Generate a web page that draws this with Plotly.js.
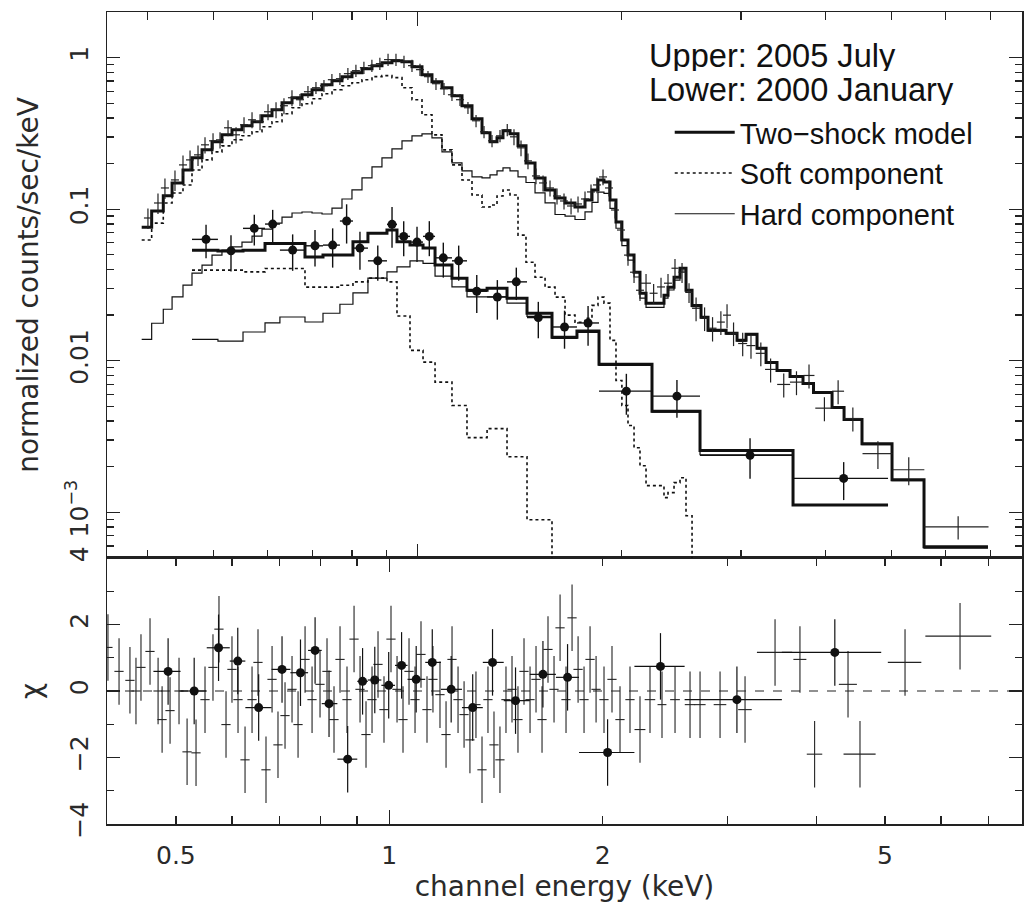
<!DOCTYPE html>
<html><head><meta charset="utf-8">
<script src="https://cdn.plot.ly/plotly-3.0.1.min.js"></script>
<style>html,body{margin:0;padding:0;background:#fff}</style>
</head><body><div id="chart" style="width:1024px;height:903px"></div>
<script>
// ---------- 2005 July (upper) : model bins ----------
const upperModelEdges = [0.3918,0.4053,0.4216,0.4344,0.4508,0.4648,0.4809,0.4975,0.5146,0.5324,0.5508,0.5699,0.5895,0.6099,0.6310,0.6528,0.6753,0.6987,0.7228,0.7477,0.7735,0.8002,0.8279,0.8565,0.8860,0.9166,0.9484,0.9811,1.0150,1.0500,1.0863,1.1238,1.1627,1.2029,1.2445,1.2788,1.3095,1.3364,1.3686,1.4063,1.4450,1.4900,1.5416,1.5947,1.6499,1.7066,1.7656,1.8080,1.8452,1.8831,1.9220,1.9615,2.0012,2.0432,2.0855,2.1281,2.1722,2.3089,2.3405,2.3889,2.4378,2.4881,2.5396,2.6182,2.6810,2.8509,2.9590,3.0510,3.1668,3.2653,3.3890,3.5425,3.7019,3.8364,4.0857,4.2556,4.5229,5.0085,5.5834,6.9377];
const upperModel = [0.0759,0.0973,0.1229,0.1490,0.1816,0.2181,0.2463,0.2782,0.3095,0.3341,0.3549,0.3773,0.4135,0.4529,0.5039,0.5437,0.5690,0.6143,0.6629,0.7044,0.7488,0.7962,0.8457,0.8853,0.9267,0.9554,0.9409,0.8720,0.7721,0.6938,0.6330,0.5606,0.4815,0.3950,0.3192,0.2782,0.2957,0.3290,0.3143,0.2618,0.2020,0.1608,0.1340,0.1186,0.1099,0.1034,0.1150,0.1340,0.1560,0.1513,0.1150,0.0823,0.0626,0.0498,0.0384,0.0279,0.0240,0.0271,0.0306,0.0356,0.0408,0.0292,0.0232,0.0194,0.01589,0.01518,0.01364,0.01495,0.01208,0.00976,0.00864,0.00788,0.00709,0.00618,0.00492,0.00410,0.00284,0.00164,0.000592];
const upperSoft = [0.0626,0.0810,0.1099,0.1280,0.1446,0.1816,0.2115,0.2389,0.2618,0.2869,0.3049,0.3240,0.3498,0.3773,0.4263,0.4671,0.4963,0.5356,0.5779,0.6143,0.6527,0.6834,0.7152,0.7488,0.7603,0.7377,0.6330,0.5276,0.4198,0.3095,0.2463,0.1960,0.1560,0.1241,0.1034,0.1066,0.1223,0.1340,0.1241,0.0675,0.0447,0.0356,0.0306,0.0263,0.0200,0.01795,0.01907,0.0232,0.0263,0.0240,0.01364,0.00742,0.00507,0.00374,0.00267,0.00203,0.00150,0.00125,0.00135,0.00157,0.00169,0.00095];
const upperHard = [0.01385,0.01768,0.02187,0.02637,0.03152,0.03785,0.04276,0.04978,0.05372,0.05649,0.06068,0.06649,0.07396,0.08104,0.08878,0.09439,0.09583,0.09439,0.09296,0.1018,0.1168,0.1340,0.1608,0.1901,0.2181,0.2501,0.2826,0.3049,0.3143,0.2957,0.2389,0.2020,0.1789,0.1633,0.1608,0.1684,0.1789,0.1873,0.1789,0.1633,0.1500,0.1280,0.1100,0.0923,0.0900,0.0855,0.0959,0.1108,0.1297,0.1273,0.1014,0.0749,0.0575,0.0461,0.0357,0.0259,0.0225,0.0259,0.0293,0.0340,0.0391,0.0283,0.0228,0.0191,0.0157,0.0150,0.0135,0.0148,0.0120,0.0097,0.0086,0.0078,0.0070,0.0061,0.0049,0.0041,0.0028,0.00162,0.00058];
const softTail = 0.0002;

// ---------- 2005 July (upper) : data ----------
const upperE = [0.4002,0.4141,0.4240,0.4387,0.4508,0.4617,0.4744,0.4858,0.4992,0.5112,0.5253,0.5398,0.5546,0.5699,0.5856,0.6017,0.6183,0.6352,0.6527,0.6707,0.6891,0.7081,0.7276,0.7475,0.7681,0.7892,0.8110,0.8333,0.8562,0.8797,0.9045,0.9292,0.9548,0.9811,1.0081,1.0359,1.0644,1.0937,1.1238,1.1548,1.1865,1.2195,1.2530,1.2875,1.3229,1.3559,1.3872,1.4207,1.4548,1.4948,1.5311,1.5678,1.6055,1.6441,1.6839,1.7242,1.7656,1.8020,1.8390,1.8770,1.9155,1.9552,1.9953,2.0432,2.0855,2.1281,2.1722,2.2290,2.2856,2.3405,2.3967,2.4547,2.5136,2.5745,2.6500,2.7227,2.8008,2.8601,2.9240,3.0162,3.1024,3.2078,3.3160,3.4674,3.6207,3.7781,3.9811,4.1707,4.3846,4.7742,5.3014,6.2692];
const upperF = [0.0875,0.1099,0.1381,0.1560,0.1960,0.2115,0.2283,0.2659,0.2826,0.2869,0.3444,0.3095,0.3605,0.3890,0.3773,0.4394,0.4529,0.4815,0.5437,0.5276,0.5958,0.6330,0.6527,0.7152,0.7262,0.7837,0.8204,0.8589,0.8853,0.9127,0.9700,0.9700,0.9409,0.8853,0.8330,0.7488,0.6730,0.6237,0.5690,0.5276,0.4671,0.3832,0.3240,0.2826,0.3049,0.3341,0.3003,0.2540,0.2084,0.1658,0.1490,0.1381,0.1223,0.1133,0.1050,0.1083,0.1168,0.1300,0.1446,0.1633,0.1381,0.0988,0.0729,0.0498,0.0384,0.0292,0.0325,0.0279,0.0307,0.0325,0.0408,0.0384,0.0283,0.0222,0.0191,0.0164,0.0180,0.0200,0.0152,0.0130,0.0126,0.0112,0.00877,0.00698,0.00723,0.00800,0.00487,0.00630,0.00416,0.00244,0.00191,0.000803];
const upperErrF = [0.0136,0.0170,0.0214,0.0242,0.0304,0.0328,0.0354,0.0324,0.0345,0.0350,0.0420,0.0378,0.0440,0.0475,0.0460,0.0536,0.0553,0.0587,0.0663,0.0485,0.0548,0.0582,0.0600,0.0658,0.0668,0.0721,0.0755,0.0790,0.0814,0.0840,0.0892,0.0892,0.0866,0.0814,0.0766,0.0689,0.0619,0.0574,0.0523,0.0485,0.0430,0.0353,0.0298,0.0260,0.0281,0.0307,0.0360,0.0305,0.0250,0.0199,0.0179,0.0166,0.0147,0.0136,0.0126,0.0130,0.0140,0.0156,0.0174,0.0196,0.0166,0.0119,0.0109,0.0075,0.0058,0.0044,0.0049,0.0042,0.0046,0.0049,0.0061,0.0058,0.0042,0.0040,0.0034,0.0030,0.0032,0.0036,0.0027,0.0023,0.0023,0.0020,0.00158,0.00126,0.00130,0.00144,0.00088,0.00113,0.00075,0.00051,0.00040,0.00014];
const upperErrE = [0.0054,0.0056,0.0058,0.0060,0.0061,0.0063,0.0064,0.0066,0.0068,0.0069,0.0071,0.0073,0.0075,0.0077,0.0080,0.0082,0.0084,0.0086,0.0089,0.0091,0.0094,0.0096,0.0099,0.0102,0.0104,0.0107,0.0110,0.0113,0.0116,0.0119,0.0123,0.0126,0.0130,0.0133,0.0137,0.0141,0.0145,0.0149,0.0153,0.0157,0.0161,0.0166,0.0170,0.0175,0.0180,0.0184,0.0188,0.0193,0.0198,0.0203,0.0208,0.0213,0.0218,0.0223,0.0229,0.0234,0.0240,0.0245,0.0250,0.0255,0.0260,0.0266,0.0271,0.0277,0.0283,0.0289,0.0369,0.0303,0.0310,0.0318,0.0285,0.0292,0.0299,0.0350,0.0360,0.0370,0.0380,0.0389,0.0397,0.0461,0.0474,0.0545,0.0619,0.0765,0.0799,0.0706,0.1217,0.0850,0.1340,0.2432,0.2881,0.6813];

// ---------- 2000 January (lower) ----------
const lowerEdges = [0.4648,0.5076,0.5527,0.5956,0.6265,0.6822,0.7252,0.7681,0.8029,0.8448,0.9012,0.9324,0.9745,1.0186,1.0610,1.1238,1.1826,1.2661,1.3548,1.4500,1.5784,1.7180,1.8516,2.2167,2.6093,3.5785,4.9409];
const lowerModel = [0.0537,0.0529,0.0537,0.0595,0.0595,0.0483,0.0498,0.0498,0.0610,0.0693,0.0729,0.0610,0.0580,0.0554,0.0428,0.0351,0.0292,0.0301,0.0259,0.0206,0.0143,0.0157,0.00947,0.00465,0.00256,0.00112];
const lowerSoft = [0.03962,0.03962,0.03860,0.04065,0.04065,0.0306,0.0306,0.03152,0.03316,0.03508,0.03316,0.01976,0.01172,0.00980,0.00723,0.00507,0.00311,0.00357,0.00233,0.000894];
const lowerHard = [0.01385,0.01350,0.01548,0.01776,0.01945,0.01803,0.02058,0.02360,0.02804,0.03508,0.03860,0.04166,0.04564,0.04386,0.03616,0.03072,0.02637,0.02637,0.0240,0.01966,0.01406,0.01541,0.00932,0.00459,0.00240,0.00111];
const lowerE = [0.4875,0.5306,0.5743,0.6113,0.6542,0.7058,0.7494,0.7858,0.8222,0.8735,0.9168,0.9539,0.9980,1.0406,1.0912,1.1497,1.2225,1.3110,1.3982,1.5067,1.6470,1.7841,2.0318,2.4126,3.0924,4.2500];
const lowerF = [0.06324,0.05314,0.07475,0.07980,0.05372,0.05736,0.05797,0.08356,0.05538,0.04564,0.07943,0.06618,0.06068,0.06618,0.04777,0.04564,0.02877,0.02637,0.03316,0.01928,0.01671,0.01776,0.006304,0.005842,0.002378,0.001675];
const lowerErrF = [0.0158,0.0143,0.0172,0.0192,0.0145,0.0155,0.0168,0.0242,0.0155,0.0119,0.0238,0.0172,0.0158,0.0172,0.0124,0.0119,0.0081,0.0077,0.0080,0.0052,0.0047,0.0052,0.0019,0.00164,0.00071,0.00047];
const lowerChi = [0.59,0.0,1.3,0.9,-0.5,0.65,0.55,1.22,-0.38,-2.05,0.29,0.33,0.17,0.77,0.35,0.86,0.05,-0.5,0.86,-0.29,0.5,0.41,-1.85,0.74,-0.26,1.16];

// ---------- residuals of the 2005 July spectrum ----------
const resE = [0.4010,0.4157,0.4307,0.4392,0.4464,0.4597,0.4719,0.4781,0.4906,0.5051,0.5185,0.5338,0.5496,0.5640,0.5751,0.5884,0.5999,0.6118,0.6259,0.6403,0.6528,0.6700,0.6833,0.6966,0.7127,0.7291,0.7435,0.7606,0.7781,0.7985,0.8168,0.8356,0.8521,0.8716,0.8918,0.9093,0.9271,0.9454,0.9640,0.9829,1.0055,1.0254,1.0455,1.0661,1.0871,1.1084,1.1302,1.1523,1.1789,1.2023,1.2259,1.2501,1.2748,1.2993,1.3250,1.3513,1.3777,1.4049,1.4324,1.4607,1.4896,1.5187,1.5488,1.5794,1.6104,1.6421,1.6743,1.7074,1.7412,1.7752,1.8103,1.8461,1.8822,1.9193,1.9572,2.0083,2.0611,2.1154,2.1852];
const resChi = [1.31,0.59,0.32,0.0,0.71,1.19,0.0,-0.86,-0.59,0.0,-1.83,-1.86,-0.26,0.71,1.86,-1.01,0.65,-0.26,-2.07,-0.26,0.86,-2.37,0.35,-1.62,-0.74,0.05,-1.01,0.95,-0.26,0.2,0.59,-0.86,0.95,-0.26,1.56,0.05,-1.31,-0.26,0.8,-0.56,1.56,0.05,-0.86,0.59,-0.26,1.1,-0.56,0.35,-0.11,-1.31,0.95,-0.26,-0.71,-1.47,-0.41,-2.37,-0.26,-1.62,-2.07,-0.26,0.05,-0.86,0.59,-0.26,0.35,-0.86,1.25,0.05,1.9,-0.26,2.2,0.65,-0.26,0.95,0.05,-0.26,0.35,-0.86,-0.26];
const resHiE = [2.2573,2.3318,2.4245,2.5293,2.6556,2.7433,2.9275,3.1750,3.5000,3.7949,3.9800,4.4361,4.6120,5.3384,6.3826];
const resHiChi = [-1.16,-0.26,-0.41,-0.26,-0.41,-0.41,-0.41,-0.56,1.16,0.95,-1.9,0.2,-1.9,0.86,1.65];
const resHiErrE = [0.04,0.04,0.035,0.04,0.045,0.05,0.06,0.07,0.2,0.08,0.1,0.13,0.24,0.29,0.68];
const chiErr = 1;

// ---------- text ----------
const headerLines = ['Upper: 2005 July', 'Lower: 2000 January'];
const legendNames = ['Two\u2212shock model', 'Soft component', 'Hard component'];
const xTickVals = [0.5, 1, 2, 5], xTickText = ['0.5', '1', '2', '5'];
const yTopTickVals = [0.001, 0.01, 0.1, 1], yTopTickText = ['10<sup>\u22123</sup>', '0.01', '0.1', '1'];

// ---------- build ----------
const ink = '#111';
const tickFont = {family: 'DejaVu Sans', size: 25, color: '#2a2a2a'};
const titleFont = {family: 'DejaVu Sans', size: 28, color: '#2a2a2a'};
function stepY(v) { return v.concat([v[v.length - 1]]); }
const lowerLo = lowerEdges.slice(0, -1), lowerHi = lowerEdges.slice(1);
const lowerPlus = lowerE.map((e, i) => lowerHi[i] - e);
const lowerMinus = lowerE.map((e, i) => e - lowerLo[i]);

const traces = [
  {x: upperModelEdges, y: stepY(upperModel), xaxis: 'x2', yaxis: 'y2', mode: 'lines',
   line: {shape: 'hv', width: 3, color: ink}, name: legendNames[0], legendrank: 1, hoverinfo: 'skip'},
  {x: upperModelEdges.slice(0, upperSoft.length + 1), y: upperSoft.concat([softTail]), xaxis: 'x2', yaxis: 'y2', mode: 'lines',
   line: {shape: 'hv', width: 1.6, dash: 'dot', color: ink}, name: legendNames[1], legendrank: 2, hoverinfo: 'skip'},
  {x: upperModelEdges, y: stepY(upperHard), xaxis: 'x2', yaxis: 'y2', mode: 'lines',
   line: {shape: 'hv', width: 1.2, color: ink}, name: legendNames[2], legendrank: 3, hoverinfo: 'skip'},
  {x: lowerEdges, y: stepY(lowerModel), xaxis: 'x2', yaxis: 'y2', mode: 'lines',
   line: {shape: 'hv', width: 3, color: ink}, showlegend: false, hoverinfo: 'skip'},
  {x: lowerEdges.slice(0, lowerSoft.length + 1), y: lowerSoft.concat([softTail]), xaxis: 'x2', yaxis: 'y2', mode: 'lines',
   line: {shape: 'hv', width: 1.6, dash: 'dot', color: ink}, showlegend: false, hoverinfo: 'skip'},
  {x: lowerEdges, y: stepY(lowerHard), xaxis: 'x2', yaxis: 'y2', mode: 'lines',
   line: {shape: 'hv', width: 1.2, color: ink}, showlegend: false, hoverinfo: 'skip'},
  {x: upperE, y: upperF, xaxis: 'x2', yaxis: 'y2', mode: 'markers',
   marker: {size: 1, color: 'rgba(0,0,0,0)'}, showlegend: false, hoverinfo: 'skip',
   error_x: {type: 'data', array: upperErrE, width: 0, thickness: 1.2, color: '#222'},
   error_y: {type: 'data', array: upperErrF, width: 0, thickness: 1.2, color: '#222'}},
  {x: lowerE, y: lowerF, xaxis: 'x2', yaxis: 'y2', mode: 'markers',
   marker: {size: 9, color: ink, symbol: 'circle'}, showlegend: false, hoverinfo: 'skip',
   error_x: {type: 'data', symmetric: false, array: lowerPlus, arrayminus: lowerMinus, width: 0, thickness: 1.4, color: ink},
   error_y: {type: 'data', array: lowerErrF, width: 0, thickness: 1.4, color: ink}},
  // residuals
  {x: resE, y: resChi, xaxis: 'x', yaxis: 'y', mode: 'markers',
   marker: {size: 1, color: 'rgba(0,0,0,0)'}, showlegend: false, hoverinfo: 'skip',
   error_x: {type: 'percent', value: 1.5, width: 0, thickness: 1.1, color: '#222'},
   error_y: {type: 'constant', value: chiErr, width: 0, thickness: 1.1, color: '#222'}},
  {x: resHiE, y: resHiChi, xaxis: 'x', yaxis: 'y', mode: 'markers',
   marker: {size: 1, color: 'rgba(0,0,0,0)'}, showlegend: false, hoverinfo: 'skip',
   error_x: {type: 'data', array: resHiErrE, width: 0, thickness: 1.1, color: '#222'},
   error_y: {type: 'constant', value: chiErr, width: 0, thickness: 1.1, color: '#222'}},
  {x: lowerE, y: lowerChi, xaxis: 'x', yaxis: 'y', mode: 'markers',
   marker: {size: 9, color: ink}, showlegend: false, hoverinfo: 'skip',
   error_x: {type: 'data', symmetric: false, array: lowerPlus, arrayminus: lowerMinus, width: 0, thickness: 1.2, color: ink},
   error_y: {type: 'constant', value: chiErr, width: 0, thickness: 1.2, color: ink}},
  // empty trace that carries the long tick at 1 keV on the lower panel
  {x: [], y: [], xaxis: 'x3', yaxis: 'y', mode: 'markers', showlegend: false, hoverinfo: 'skip'}
];

const axBase = {showline: true, linecolor: '#222', linewidth: 1.5, mirror: 'ticks', ticks: 'inside',
  tickcolor: '#222', tickwidth: 1.3, showgrid: false, zeroline: false, tickfont: tickFont};
const split = 0.3276;

const layout = {
  width: 1024, height: 903,
  margin: {l: 107, r: 2, t: 12, b: 79},
  paper_bgcolor: '#fff', plot_bgcolor: '#fff',
  showlegend: true,
  legend: {x: 0.615, xanchor: 'left', y: 0.883, yanchor: 'top', bgcolor: 'rgba(0,0,0,0)',
    font: {family: 'Liberation Sans', size: 29, color: ink}, itemwidth: 60, traceorder: 'normal'},
  xaxis: Object.assign({}, axBase, {type: 'log', range: [-0.3982, 0.8924], anchor: 'y', domain: [0, 1],
    tickmode: 'array', tickvals: xTickVals, ticktext: xTickText, ticklen: 8, ticklabelstandoff: 8,
    minor: {tickmode: 'array', tickvals: [0.6, 0.7, 0.8, 0.9, 3, 4, 6, 7], ticklen: 8, ticks: 'inside', tickcolor: '#222', tickwidth: 1.3},
    title: {text: 'channel energy (keV)', font: titleFont, standoff: 10}}),
  xaxis3: Object.assign({}, axBase, {type: 'log', range: [-0.3982, 0.8924], anchor: 'y', overlaying: 'x',
    tickmode: 'array', tickvals: [1], ticklen: 14, showticklabels: false}),
  yaxis: Object.assign({}, axBase, {range: [-4, 4], anchor: 'x', domain: [0, split],
    tickmode: 'array', tickvals: [-4, -2, 0, 2, 4], ticklen: 13, tickangle: -90, ticklabelstandoff: 8,
    minor: {tickmode: 'array', tickvals: [-3, -1, 1, 3], ticklen: 7, ticks: 'inside', tickcolor: '#222', tickwidth: 1.3},
    title: {text: '\u03c7', font: titleFont, standoff: 14}}),
  xaxis2: Object.assign({}, axBase, {type: 'log', range: [-0.4581, 0.8914], anchor: 'y2', domain: [0, 1],
    tickmode: 'array', tickvals: [1], ticklen: 14, showticklabels: false,
    minor: {tickmode: 'array', tickvals: [0.4, 0.5, 0.6, 0.7, 0.8, 0.9, 2, 3, 4, 5, 6, 7], ticklen: 8, ticks: 'inside', tickcolor: '#222', tickwidth: 1.3}}),
  yaxis2: Object.assign({}, axBase, {type: 'log', range: [-3.30103, 0.30103], anchor: 'x2', domain: [split, 1],
    tickmode: 'array', tickvals: yTopTickVals, ticktext: yTopTickText, ticklen: 13, tickangle: -90, ticklabelstandoff: 8,
    minor: {tickmode: 'array', tickvals: [0.0005,0.0006,0.0007,0.0008,0.0009,0.002,0.003,0.004,0.005,0.006,0.007,0.008,0.009,0.02,0.03,0.04,0.05,0.06,0.07,0.08,0.09,0.2,0.3,0.4,0.5,0.6,0.7,0.8,0.9,2], ticklen: 7, ticks: 'inside', tickcolor: '#222', tickwidth: 1.3},
    title: {text: 'normalized counts/sec/keV', font: titleFont, standoff: 14}}),
  shapes: [{type: 'line', xref: 'x domain', x0: 0, x1: 1, yref: 'y', y0: 0, y1: 0,
    line: {color: '#222', width: 1.2, dash: 'dash'}, layer: 'below'}],
  annotations: headerLines.map((t, i) => ({text: t, xref: 'paper', yref: 'paper', x: 0.5902, y: [0.9465, 0.9056][i],
    xanchor: 'left', yanchor: 'middle', height: 32, valign: 'middle', showarrow: false,
    font: {family: 'Liberation Sans', size: 32.6, color: ink}}))
};

Plotly.newPlot('chart', traces, layout, {staticPlot: true, displayModeBar: false});
</script>
</body></html>
